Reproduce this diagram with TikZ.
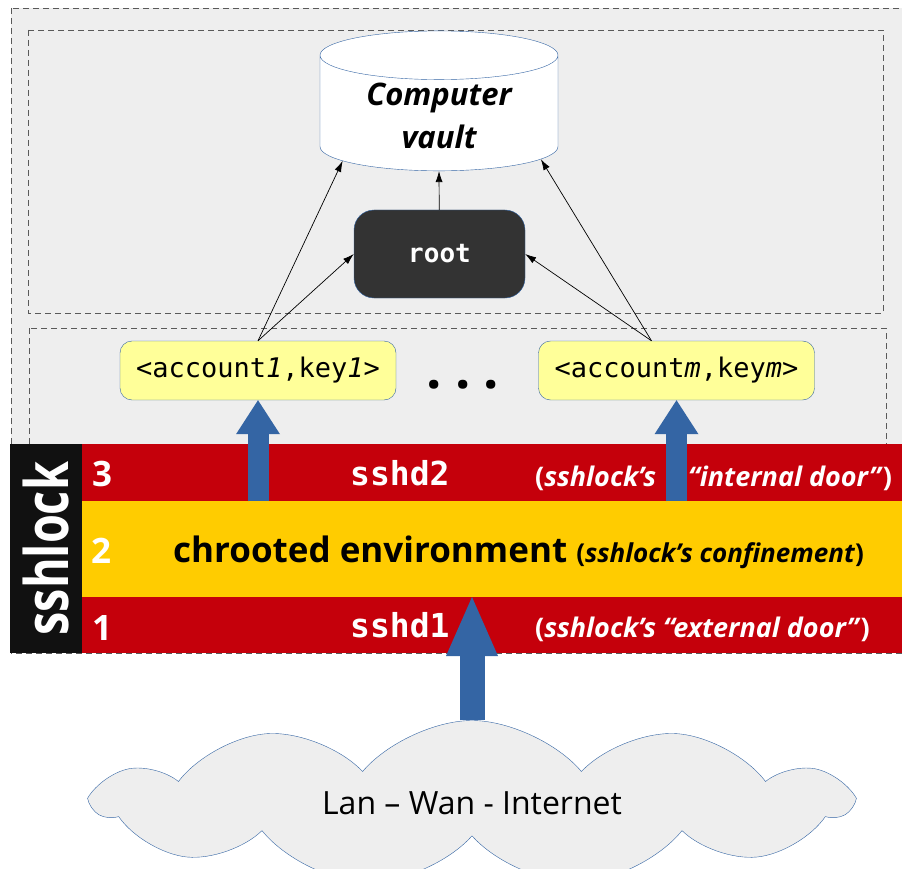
\documentclass[tikz,border=0pt]{standalone}
\usepackage{fontspec}
\setmainfont{Open Sans}
\setmonofont{DejaVu Sans Mono}
\usetikzlibrary{arrows.meta,shapes.geometric,shapes.symbols}

\definecolor{panelgray}{HTML}{EEEEEE}
\definecolor{boxblue}{HTML}{3465A4}
\definecolor{rootgray}{HTML}{333333}
\definecolor{keyyellow}{HTML}{FFFF99}
\definecolor{doorred}{HTML}{C5000B}
\definecolor{chrootyellow}{HTML}{FFCC00}
\definecolor{lockblack}{HTML}{111111}
\newcommand{\setfs}[2]{\fontsize{#1}{#2}\selectfont}

\begin{document}
\begin{tikzpicture}[x=1pt,y=-1pt,
    frame/.style={draw=black!65, dash pattern=on 6pt off 4pt, line width=0.8pt},
    keybox/.style={draw=boxblue, fill=keyyellow, rounded corners=12, minimum width=276, minimum height=59,
        font=\ttfamily\setfs{27}{27}},
    band/.style={anchor=north west, inner sep=0, minimum width=820},
    bandtext/.style={anchor=base west, inner sep=0, text=white, font=\bfseries\setfs{27}{27}},
    digit/.style={bandtext, font=\bfseries\setfs{35}{35}},
    thinarrow/.style={-{Latex[length=11pt,width=7pt]}, line width=0.7pt},
    bigarrow/.style={draw=boxblue, line width=21, -{Triangle[length=34pt,width=44pt,line width=0pt]}}
    ]
    \useasboundingbox (0,0) rectangle (902,869);
    \path[fill=panelgray] (11,8) rectangle (910,653);
    \draw[frame] (11,8) rectangle (910,653);
    \draw[frame] (28,30) rectangle (883,313);
    \draw[frame] (29,328) rectangle (886,470);

    \node[cylinder, shape border rotate=90, draw=boxblue, fill=white, aspect=0.32,
        minimum width=238, minimum height=117, align=center,
        font=\bfseries\itshape\setfs{31}{43}] (vault) at (439,116) {Computer\\vault};
    \node[draw=boxblue, fill=rootgray, rounded corners=20, minimum width=171, minimum height=88,
        text=white, font=\ttfamily\bfseries\setfs{26}{26}] (root) at (439.5,254) {root};
    \node[keybox] (acc1) at (258,370.5) {<account\textit{1},key\textit{1}>};
    \node[keybox] (accm) at (676.5,370.5) {<account\textit{m},key\textit{m}>};
    \node[font=\bfseries\setfs{54}{54}, inner sep=0] (dots) at (463,385) {.\hspace{13pt}.\hspace{13pt}.};

    \path
        (root) edge [thinarrow] (vault.bottom)
        (acc1.north) edge [thinarrow] (vault.205)
                     edge [thinarrow] (root.west)
        ([xshift=-25]accm.north) edge [thinarrow] (vault.337)
                                 edge [thinarrow] (root.east)
        ;

    \node[band, fill=doorred, minimum height=57] (band3) at (82,444) {};
    \node[band, fill=chrootyellow, minimum height=96] (band2) at (82,501) {};
    \node[band, fill=doorred, minimum height=56] (band1) at (82,597) {};
    \node[anchor=north west, inner sep=0, fill=lockblack, minimum width=72, minimum height=209] (lockbar) at (10,444) {};
    \node[rotate=90, text=white, font=\bfseries\setfs{60}{60}] (locktext) at (lockbar.center) {\scalebox{0.78}[1]{sshlock}};

    \node[digit] (n3) at (92,486) {3};
    \node[digit] (n2) at (91,563) {2};
    \node[digit] (n1) at (92,640) {1};
    \node[bandtext, font=\ttfamily\bfseries\setfs{33}{33}] (sshd2) at (350,485) {sshd2};
    \node[bandtext, font=\ttfamily\bfseries\setfs{33}{33}] (sshd1) at (350,637) {sshd1};
    \node[bandtext] (int1) at (535,486) {(\textit{sshlock's}};
    \node[bandtext] (int2) at (688,486) {\textit{“internal door”})};
    \node[bandtext] (ext) at (535,637) {(\textit{sshlock's “external door”})};
    \node[bandtext, text=black, font=\bfseries\setfs{35}{35}] (chroot) at (173,562)
        {chrooted environment {\setfs{26}{26}(\textit{sshlock's confinement})}};

    \node[cloud, cloud puffs=11, cloud puff arc=100, cloud ignores aspect, draw=boxblue, fill=panelgray,
        minimum width=754, minimum height=165, font=\setfs{32}{32}] (net) at (472,803) {Lan – Wan - Internet};

    \draw[bigarrow] (acc1.south |- band3.south) -- (acc1.south);
    \draw[bigarrow] (accm.south |- band3.south) -- (accm.south);
    \draw[bigarrow, line width=25, -{Triangle[length=59pt,width=52pt,line width=0pt]}] (net.north) -- (net.north |- band1.north);
\end{tikzpicture}
\end{document}
